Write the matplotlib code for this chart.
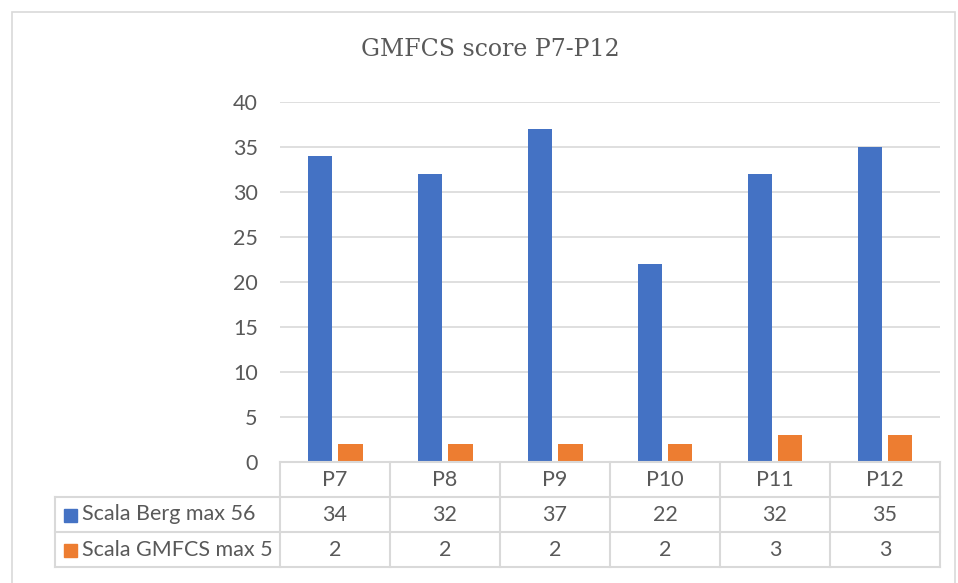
import matplotlib.pyplot as plt
import numpy as np
from matplotlib.patches import Rectangle

categories = ['P7', 'P8', 'P9', 'P10', 'P11', 'P12']
berg = [34, 32, 37, 22, 32, 35]
gmfcs = [2, 2, 2, 2, 3, 3]
series_names = ['Scala Berg max 56', 'Scala GMFCS max 5']
colors = ['#4472c4', '#ed7d31']

W, H = 958, 583
txt = '#595959'
grid = '#d9d9d9'
fs = 15.5

fig = plt.figure(figsize=(W / 100, H / 100), dpi=100)
fig.patches.append(Rectangle((12 / W, -0.1), 943 / W, 1.1 - 12 / H, transform=fig.transFigure,
                             fill=False, edgecolor=grid, lw=1.2))

ax = fig.add_axes([280 / W, (H - 462) / H, 660 / W, 360 / H])
x = np.arange(len(categories))
bw = 0.22
ax.bar(x - 0.14, berg, bw, color=colors[0], zorder=3)
ax.bar(x + 0.14, gmfcs, bw, color=colors[1], zorder=3)
ax.set_xlim(-0.5, len(categories) - 0.5)
ax.set_ylim(0, 40)
ax.set_yticks(range(0, 41, 5))
ax.yaxis.grid(True, color=grid, lw=1.2)
ax.set_axisbelow(True)
for s in ax.spines.values():
    s.set_visible(False)
ax.tick_params(axis='y', length=0, pad=16, labelsize=fs, labelcolor=txt)
ax.tick_params(axis='x', length=0, labelbottom=False)
for lab in ax.get_yticklabels():
    lab.set_fontfamily('Lato')

fig.text(490 / W, 1 - 50 / H, 'GMFCS score P7-P12', ha='center', va='center',
         fontsize=17, color=txt, family='DejaVu Serif')

# data table below the axis
def fx(px):
    return px / W

def fy(py):
    return 1 - py / H

col_edges = [280 + 110 * i for i in range(len(categories) + 1)]
row_edges = [462, 497, 532, 567]
lab_left = 55
lc = dict(color=grid, lw=1.5, transform=fig.transFigure)
# horizontal lines
fig.add_artist(plt.Line2D([fx(280), fx(940)], [fy(462)] * 2, **lc))
for ry in row_edges[1:]:
    fig.add_artist(plt.Line2D([fx(lab_left), fx(940)], [fy(ry)] * 2, **lc))
# vertical lines
for cx in col_edges:
    fig.add_artist(plt.Line2D([fx(cx)] * 2, [fy(462), fy(567)], **lc))
fig.add_artist(plt.Line2D([fx(lab_left)] * 2, [fy(497), fy(567)], **lc))

for i, c in enumerate(categories):
    xc = fx(col_edges[i] + 55)
    fig.text(xc, fy(480), c, ha='center', va='center', fontsize=fs, color=txt, family='Lato')
    fig.text(xc, fy(515), str(berg[i]), ha='center', va='center', fontsize=fs, color=txt, family='Lato')
    fig.text(xc, fy(550), str(gmfcs[i]), ha='center', va='center', fontsize=fs, color=txt, family='Lato')

for j, name in enumerate(series_names):
    yc = (row_edges[j + 1] + row_edges[j + 2]) / 2
    fig.patches.append(Rectangle((fx(64), fy(yc + 7)), 13 / W, 13 / H, transform=fig.transFigure,
                                 color=colors[j]))
    fig.text(fx(82), fy(yc), name, ha='left', va='center', fontsize=fs, color=txt, family='Lato')

fig.savefig('out.png', dpi=100)
